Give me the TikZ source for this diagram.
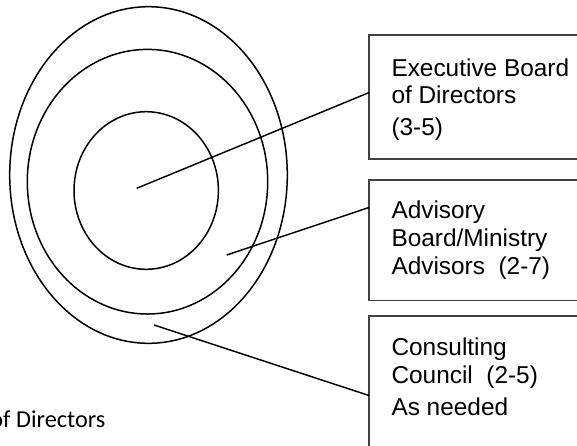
\documentclass[tikz,border=0pt]{standalone}
\usepackage{fontspec}
\setmainfont{Liberation Sans}
\newfontfamily\calibri{Carlito}
\usetikzlibrary{calc}
\begin{document}
\begin{tikzpicture}[x=1pt,y=-1pt,
  ring/.style={draw=black,line width=1.5pt},
  boxstyle/.style={draw=black!75,line width=1.1pt,rectangle,anchor=north west,
    inner sep=0pt,outer sep=0pt,minimum width=240pt},
  linestyle/.style={anchor=base west,inner sep=0pt,outer sep=0pt,
    font=\fontsize{24.4}{27}\selectfont},
  leader/.style={draw=black,line width=1.45pt}]
\useasboundingbox (0,0) rectangle (577,445);
% rings
\draw[ring] (148.5,175) ellipse [x radius=138.8, y radius=168.3];
\draw[ring] (147.5,181.7) ellipse [x radius=120.2, y radius=132.3];
\draw[ring] (146.2,190.5) ellipse [x radius=72.2, y radius=78.8];
% boxes
\node[boxstyle,minimum height=124pt] (b1) at (369,35) {};
\node[boxstyle,minimum height=120.7pt] (b2) at (369,180) {};
\node[boxstyle,minimum height=200pt] (b3) at (369,316) {};
% box texts
\node[linestyle] (t11) at (391.5,76) {Executive Board};
\node[linestyle] (t12) at (391.5,103) {of Directors};
\node[linestyle] (t13) at (391.5,135) {(3-5)};
\node[linestyle] (t21) at (391.5,218) {Advisory};
\node[linestyle] (t22) at (391.5,246) {Board/Ministry};
\node[linestyle] (t23) at (391.5,274) {Advisors\ \ (2-7)};
\node[linestyle] (t31) at (391.5,355) {Consulting};
\node[linestyle] (t32) at (391.5,383) {Council\ \ (2-5)};
\node[linestyle] (t33) at (391.5,415) {As needed};
% clipped caption
\node[anchor=base west,inner sep=0pt,font=\calibri\fontsize{24.3}{27}\selectfont] (cap) at (-9.8,427) {of Directors};
% leader lines
\coordinate (c1) at (136.7,188.3);
\coordinate (c2) at (226.7,255);
\coordinate (c3) at (154,325);
\draw[leader] (c1) -- ($(b1.north west)+(0,57.6)$);
\draw[leader] (c2) -- ($(b2.north west)+(0,27.5)$);
\draw[leader] (c3) -- ($(b3.north west)+(0,79.5)$);
\end{tikzpicture}
\end{document}
